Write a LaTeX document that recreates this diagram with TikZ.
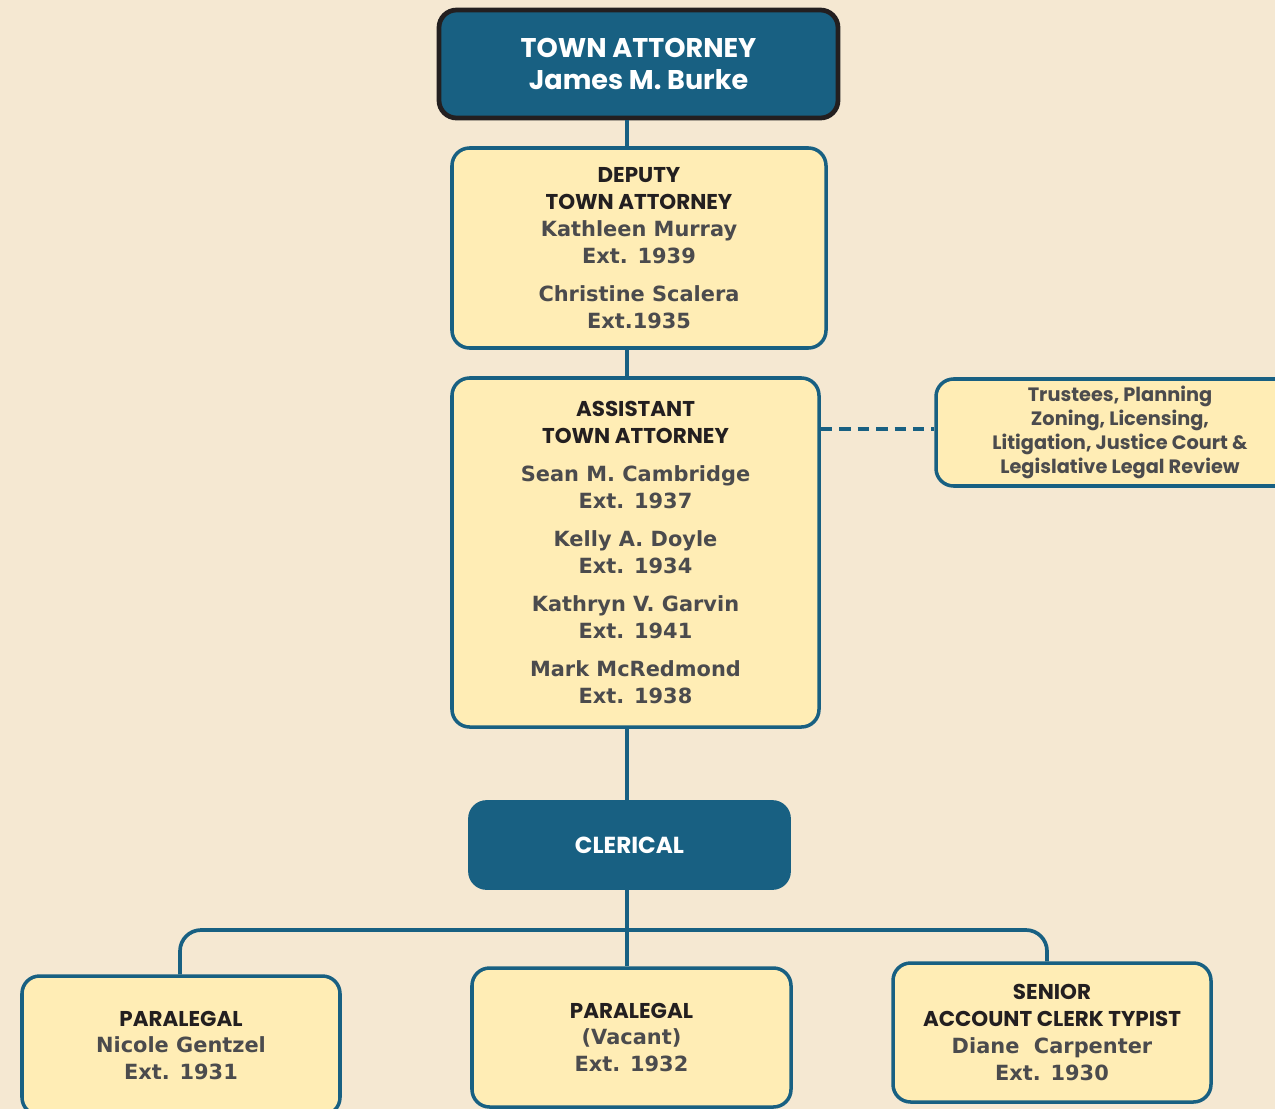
\documentclass[tikz,border=0pt]{standalone}
\usepackage{fontspec}
\newfontfamily\ttlfont{Poppins}
\newfontfamily\namefont{DejaVu Sans}
\definecolor{bgc}{HTML}{F5E8D2}
\definecolor{boxfill}{HTML}{FFEDB5}
\definecolor{bluec}{HTML}{186082}
\definecolor{ttlc}{HTML}{231F20}
\definecolor{namec}{HTML}{4B4B4D}
\newcommand{\ttl}[1]{{\ttlfont\bfseries\color{ttlc}\fontsize{12.2}{15.3}\selectfont#1}}
\newcommand{\nm}[1]{{\namefont\bfseries\color{namec}#1}}
\tikzset{
  conn/.style={draw=bluec, line width=2.1pt},
  dashconn/.style={draw=bluec, line width=2.3pt, dash pattern=on 6.5pt off 4pt},
  ybox/.style={draw=bluec, fill=boxfill, line width=2pt, rounded corners=10pt,
    align=center, inner sep=0pt, font=\fontsize{11.9}{15.3}\selectfont},
  bbox/.style={fill=bluec, rounded corners=10pt, align=center, inner sep=0pt,
    text=white, font=\ttlfont\bfseries},
}
\begin{document}
\begin{tikzpicture}[x=0.02cm, y=-0.02cm]
\useasboundingbox[fill=bgc] (0,0) rectangle (1275,1109);
\clip (0,0) rectangle (1275,1109);
\coordinate (spine) at (627,0);
\node[bbox, draw=ttlc, line width=2.7pt, minimum width=399*0.02cm, minimum height=108*0.02cm,
  font=\ttlfont\bfseries\fontsize{15.4}{18.1}\selectfont] (top) at (638.5,64)
  {TOWN ATTORNEY\\James M. Burke};
\node[ybox, minimum width=374*0.02cm, minimum height=200*0.02cm] (deputy) at (639,248)
  {\ttl{DEPUTY}\\\ttl{TOWN ATTORNEY}\\\nm{Kathleen Murray}\\\nm{Ext. 1939}\\[6.6pt]\nm{Christine Scalera}\\\nm{Ext.1935}};
\node[ybox, minimum width=367*0.02cm, minimum height=349*0.02cm] (asst) at (635.5,552.5)
  {\ttl{ASSISTANT}\\\ttl{TOWN ATTORNEY}\\[6.4pt]\nm{Sean M. Cambridge}\\\nm{Ext. 1937}\\[6.4pt]\nm{Kelly A. Doyle}\\\nm{Ext. 1934}\\[6.4pt]\nm{Kathryn V. Garvin}\\\nm{Ext. 1941}\\[6.4pt]\nm{Mark McRedmond}\\\nm{Ext. 1938}};
\node[ybox, minimum width=368*0.02cm, minimum height=107*0.02cm,
  font=\ttlfont\bfseries\color{namec}\fontsize{11}{13.6}\selectfont] (right) at (1120,432.5)
  {Trustees, Planning\\Zoning, Licensing,\\Litigation, Justice Court \&\\Legislative Legal Review};
\node[bbox, draw=bluec, line width=1pt, minimum width=321*0.02cm, minimum height=88*0.02cm,
  font=\ttlfont\bfseries\fontsize{13.2}{15}\selectfont] (clerical) at (629.5,845) {CLERICAL};
\node[ybox, minimum width=318*0.02cm, minimum height=139*0.02cm] (p1) at (181,1045.5)
  {\ttl{PARALEGAL}\\\nm{Nicole Gentzel}\\\nm{Ext. 1931}};
\node[ybox, minimum width=319*0.02cm, minimum height=139*0.02cm] (p2) at (631.5,1037.5)
  {\ttl{PARALEGAL}\\\nm{(Vacant)}\\\nm{Ext. 1932}};
\node[ybox, minimum width=318*0.02cm, minimum height=139*0.02cm] (p3) at (1052,1032.5)
  {\ttl{SENIOR}\\\ttl{ACCOUNT CLERK TYPIST}\\\nm{Diane\ \ Carpenter}\\\nm{Ext. 1930}};
\draw[conn] (spine |- top.south) -- (spine |- deputy.north);
\draw[conn] (spine |- deputy.south) -- (spine |- asst.north);
\draw[conn] (spine |- asst.south) -- (spine |- clerical.north);
\draw[conn] (spine |- clerical.south) -- (spine |- p2.north);
\draw[dashconn] (asst.east |- 0,429) -- (right.west |- 0,429);
\coordinate (busL) at (180,930);
\coordinate (busR) at (1047,930);
\draw[conn, rounded corners=12pt] (busL |- p1.north) -- (busL) -- (busR) -- (busR |- p3.north);
\end{tikzpicture}
\end{document}
